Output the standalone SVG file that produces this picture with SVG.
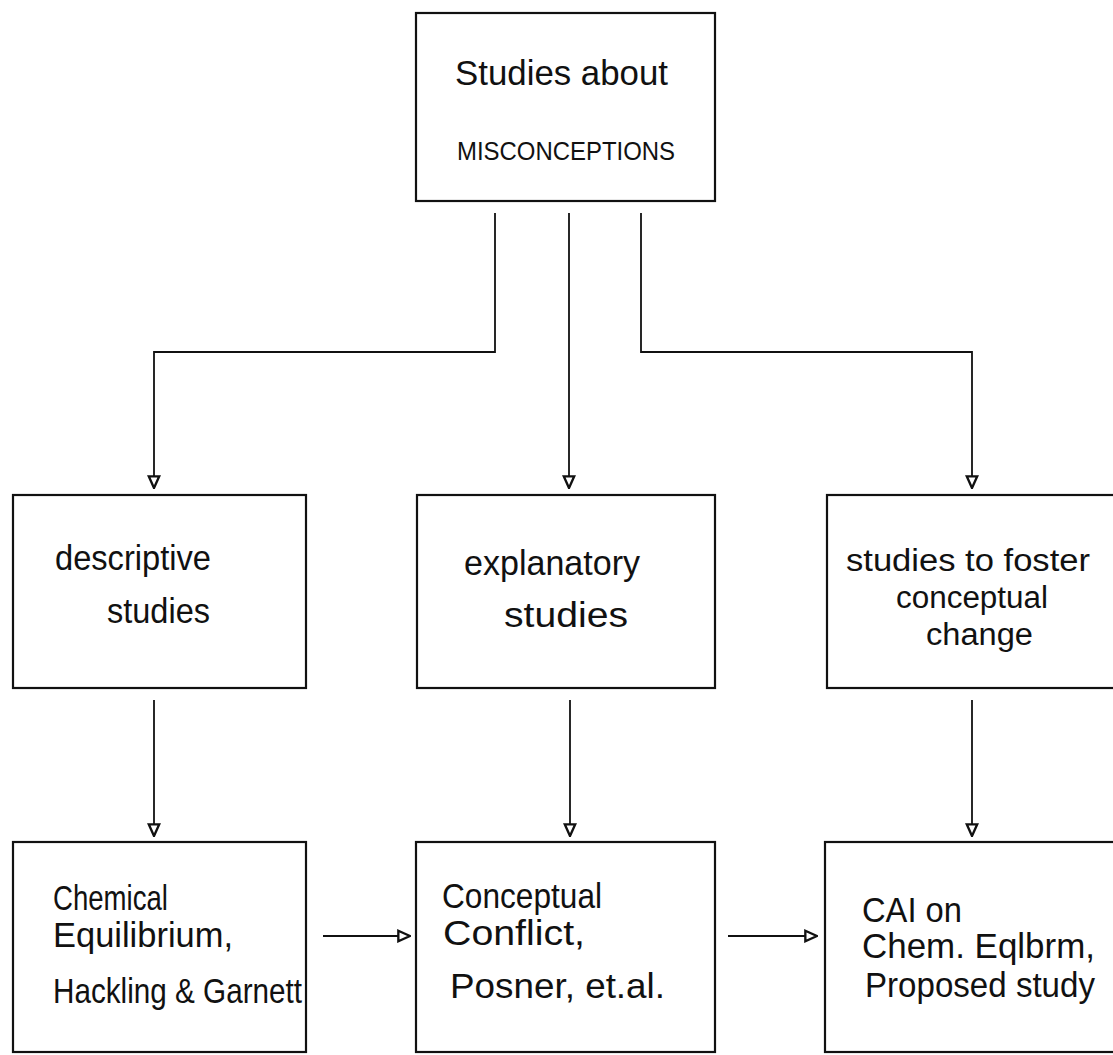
<svg xmlns="http://www.w3.org/2000/svg" width="1113" height="1055" viewBox="0 0 1113 1055">
<style>
.box{fill:#fff;stroke:#111;stroke-width:2.2}
.conn{fill:none;stroke:#111;stroke-width:1.8}
.t{font-family:"Liberation Sans","Noto Sans",sans-serif;font-size:35px;fill:#111}
.s{font-size:31px}
.cap{font-family:"Liberation Sans","Noto Sans",sans-serif;font-size:25px;fill:#111}
</style>
<defs>
<marker id="ah" markerUnits="userSpaceOnUse" markerWidth="14" markerHeight="14" viewBox="0 0 12 12" refX="11" refY="6" orient="auto">
<path d="M1,1.5 L11,6 L1,10.5 z" fill="#fff" stroke="#111" stroke-width="2"/>
</marker>
</defs>
<rect width="1113" height="1055" fill="#fff"/>
<g id="connectors">
<path class="conn" d="M495,213 V352 H154 V488" marker-end="url(#ah)"/>
<path class="conn" d="M569,213 V488" marker-end="url(#ah)"/>
<path class="conn" d="M641,213 V352 H972 V488" marker-end="url(#ah)"/>
<path class="conn" d="M154,700 V836" marker-end="url(#ah)"/>
<path class="conn" d="M570,700 V836" marker-end="url(#ah)"/>
<path class="conn" d="M972,700 V836" marker-end="url(#ah)"/>
<path class="conn" d="M323,936 H410" marker-end="url(#ah)"/>
<path class="conn" d="M728,936 H817" marker-end="url(#ah)"/>
</g>
<g id="n-top">
<rect class="box" x="416" y="13" width="299" height="188"/>
<text class="t" x="455" y="85" font-size="33" textLength="213" lengthAdjust="spacingAndGlyphs">Studies about</text>
<text class="cap" x="457" y="160" textLength="218" lengthAdjust="spacingAndGlyphs">MISCONCEPTIONS</text>
</g>
<g id="n-descriptive">
<rect class="box" x="13" y="495" width="293" height="193"/>
<text class="t" x="55" y="570" textLength="156" lengthAdjust="spacingAndGlyphs">descriptive</text>
<text class="t" x="107" y="623" textLength="103" lengthAdjust="spacingAndGlyphs">studies</text>
</g>
<g id="n-explanatory">
<rect class="box" x="417" y="495" width="298" height="193"/>
<text class="t" x="464" y="575" textLength="176" lengthAdjust="spacingAndGlyphs">explanatory</text>
<text class="t" x="504" y="627" textLength="124" lengthAdjust="spacingAndGlyphs">studies</text>
</g>
<g id="n-foster">
<rect class="box" x="827" y="495" width="292" height="193"/>
<text class="t s" x="846" y="571" textLength="244" lengthAdjust="spacingAndGlyphs">studies to foster</text>
<text class="t s" x="896" y="608" textLength="152" lengthAdjust="spacingAndGlyphs">conceptual</text>
<text class="t s" x="926" y="645" textLength="107" lengthAdjust="spacingAndGlyphs">change</text>
</g>
<g id="n-chem">
<rect class="box" x="13" y="842" width="293" height="210"/>
<text class="t" x="53" y="910" textLength="115" lengthAdjust="spacingAndGlyphs">Chemical</text>
<text class="t" x="53" y="947" textLength="180" lengthAdjust="spacingAndGlyphs">Equilibrium,</text>
<text class="t" x="53" y="1003" textLength="249" lengthAdjust="spacingAndGlyphs">Hackling &amp; Garnett</text>
</g>
<g id="n-conflict">
<rect class="box" x="416" y="842" width="299" height="210"/>
<text class="t" x="442" y="908" textLength="160" lengthAdjust="spacingAndGlyphs">Conceptual</text>
<text class="t" x="443" y="945" textLength="142" lengthAdjust="spacingAndGlyphs">Conflict,</text>
<text class="t" x="450" y="998" textLength="215" lengthAdjust="spacingAndGlyphs">Posner, et.al.</text>
</g>
<g id="n-cai">
<rect class="box" x="825" y="842" width="294" height="210"/>
<text class="t" x="862" y="922" textLength="100" lengthAdjust="spacingAndGlyphs">CAI on</text>
<text class="t" x="862" y="958" textLength="233" lengthAdjust="spacingAndGlyphs">Chem. Eqlbrm,</text>
<text class="t" x="865" y="997" textLength="230" lengthAdjust="spacingAndGlyphs">Proposed study</text>
</g>
</svg>
